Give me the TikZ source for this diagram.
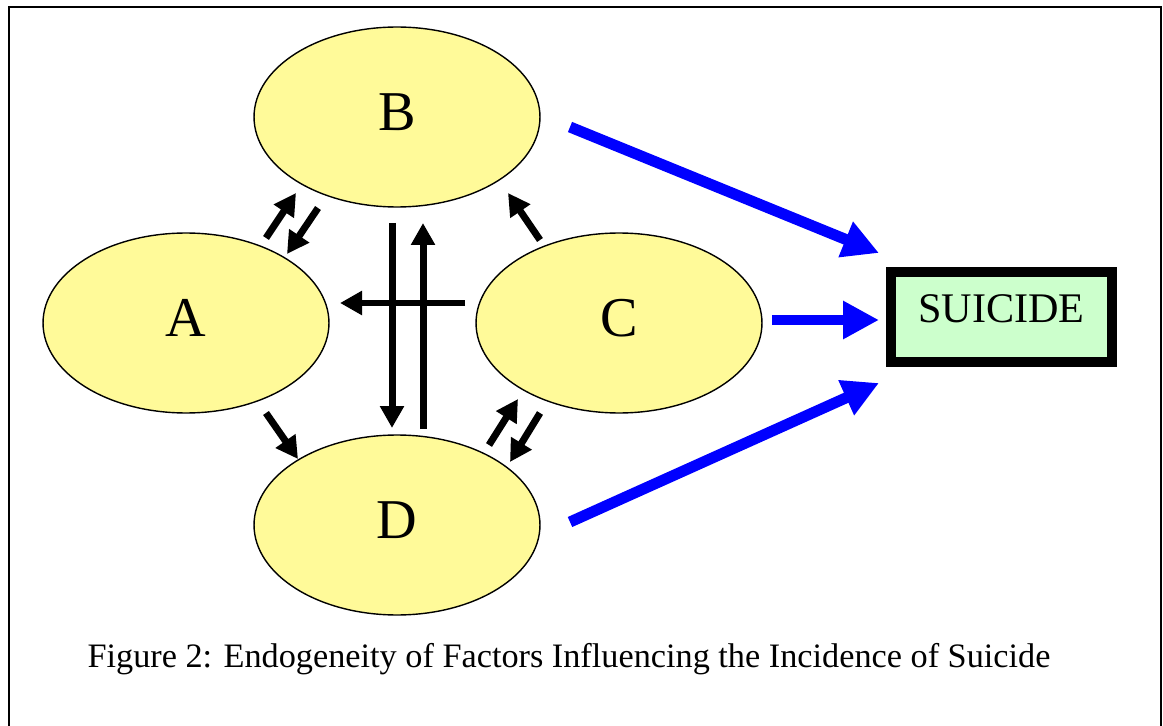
\documentclass[tikz,border=0pt]{standalone}
\usepackage{fontspec}
\setmainfont{Liberation Serif}
\usetikzlibrary{shapes.geometric,arrows.meta}

\tikzset{
  factor/.style={ellipse, draw=black, line width=0.8pt, fill=yellow!40,
    minimum width=5.72cm, minimum height=3.6cm, text depth=0.2cm,
    font=\fontsize{32}{36}\selectfont},
  outcome/.style={rectangle, draw=black, line width=0.2cm, fill=green!20,
    minimum width=4.42cm, minimum height=1.8cm, text depth=0.32cm,
    font=\fontsize{24}{28}\selectfont},
  feedback/.style={line width=0.14cm, -{Triangle[length=0.44cm,width=0.46cm]}},
  effect/.style={blue, line width=0.22cm, -{Triangle[length=0.72cm,width=0.72cm]}}
}

\begin{document}
\begin{tikzpicture}[x=0.02cm,y=-0.02cm]

   \useasboundingbox (0,0) rectangle (1163,726);
   \draw [line width=1.2pt] (9,726) -- (9,7) -- (1161,7) -- (1161,726);

   \node (B) at (397,117) [factor] {B};
   \node (A) at (186,323) [factor] {A};
   \node (C) at (619,323) [factor] {C};
   \node (D) at (397,525) [factor] {D};
   \node (suicide) at (1001.5,317) [outcome] {SUICIDE};

   \node (caption) at (569,659) [font=\fontsize{19.5}{23}\selectfont] {Figure 2: Endogeneity of Factors Influencing the Incidence of Suicide};

   % ends of the short arrows between the factors
   \coordinate (ab1) at (266,238);
   \coordinate (ab2) at (296,193);
   \coordinate (ba1) at (318,208);
   \coordinate (ba2) at (287,254);
   \coordinate (cb1) at (540,240);
   \coordinate (cb2) at (508,193);
   \coordinate (ca1) at (465,303);
   \coordinate (ca2) at (340,303);
   \coordinate (bd1) at (392,223);
   \coordinate (bd2) at (392,428);
   \coordinate (db1) at (423,429);
   \coordinate (db2) at (423,223);
   \coordinate (ad1) at (266,413);
   \coordinate (ad2) at (298,459);
   \coordinate (cd1) at (489,445);
   \coordinate (cd2) at (518,399);
   \coordinate (dc1) at (540,413);
   \coordinate (dc2) at (510,462);

   \draw [feedback] (ab1) -- (ab2);
   \draw [feedback] (ba1) -- (ba2);
   \draw [feedback] (cb1) -- (cb2);
   \draw [feedback] (ca1) -- (ca2);
   \draw [feedback] (bd1) -- (bd2);
   \draw [feedback] (db1) -- (db2);
   \draw [feedback] (ad1) -- (ad2);
   \draw [feedback] (cd1) -- (cd2);
   \draw [feedback] (dc1) -- (dc2);

   % into the outcome
   \coordinate (bs1) at (570,127);
   \coordinate (bs2) at (879,253);
   \coordinate (cs1) at (772,320);
   \coordinate (cs2) at (879,320);
   \coordinate (ds1) at (570,522);
   \coordinate (ds2) at (879,383);

   \draw [effect] (bs1) -- (bs2);
   \draw [effect] (cs1) -- (cs2);
   \draw [effect] (ds1) -- (ds2);

\end{tikzpicture}
\end{document}
